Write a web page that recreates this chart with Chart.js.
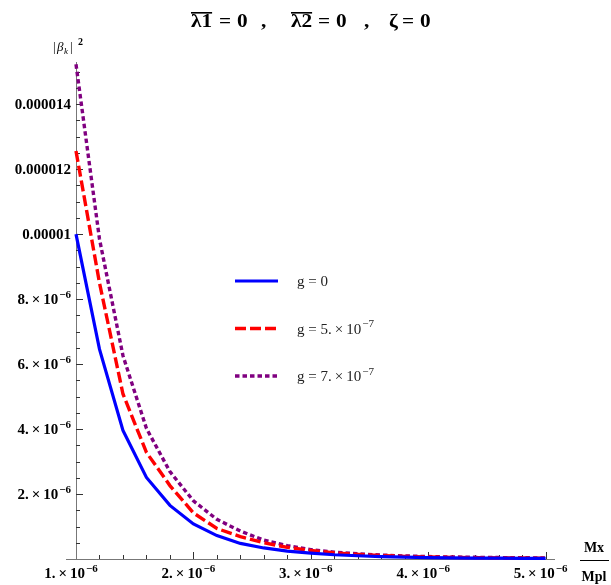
<!DOCTYPE html>
<html>
<head>
<meta charset="utf-8">
<script src="https://cdn.jsdelivr.net/npm/chart.js@4.4.1/dist/chart.umd.min.js"></script>
<style>
  html, body { margin: 0; padding: 0; background: #fff; }
  #wrap { width: 611px; height: 585px; }
</style>
</head>
<body>
<div id="wrap"><canvas id="plot"></canvas></div>
<script>
// values in units of 1e-6
const mxValues = [1.0, 1.2, 1.4, 1.6, 1.8, 2.0, 2.2, 2.4, 2.6, 2.8, 3.0, 3.2, 3.4, 3.6, 3.8, 4.0, 4.2, 4.4, 4.6, 4.8, 5.0];
const betaG0 = [10.0, 6.46, 3.96, 2.51, 1.65, 1.08, 0.72, 0.48, 0.34, 0.24, 0.18, 0.13, 0.10, 0.075, 0.058, 0.045, 0.036, 0.029, 0.024, 0.020, 0.017];
const betaG5 = [12.56, 8.5, 5.08, 3.28, 2.26, 1.42, 0.94, 0.69, 0.50, 0.36, 0.26, 0.19, 0.14, 0.105, 0.08, 0.063, 0.05, 0.041, 0.034, 0.029, 0.025];
const betaG7 = [15.23, 9.85, 6.26, 4.02, 2.69, 1.79, 1.22, 0.86, 0.58, 0.41, 0.29, 0.21, 0.16, 0.12, 0.095, 0.075, 0.062, 0.052, 0.044, 0.038, 0.033];

const T = '\u2009\u00d7\u2009';   // thin-spaced times sign
const seriesLabels = [['g = 0', ''], ['g = 5.' + T + '10', '\u22127'], ['g = 7.' + T + '10', '\u22127']];
const xTickValues = [1, 2, 3, 4, 5];
const xTickLabels = [['1.' + T + '10', '\u22126'], ['2.' + T + '10', '\u22126'], ['3.' + T + '10', '\u22126'], ['4.' + T + '10', '\u22126'], ['5.' + T + '10', '\u22126']];
const yTickValues = [2, 4, 6, 8, 10, 12, 14];
const yTickLabels = [['2.' + T + '10', '\u22126'], ['4.' + T + '10', '\u22126'], ['6.' + T + '10', '\u22126'], ['8.' + T + '10', '\u22126'], ['0.00001', ''], ['0.000012', ''], ['0.000014', '']];

const SERIF = "'Liberation Serif', 'Times New Roman', serif";

function toPoints(ys) {
    return mxValues.map((x, i) => ({ x: x, y: ys[i] }));
}

// text with a raised exponent, align: left / right / center
function sciText(ctx, parts, x, y, size, bold, align) {
    const w = bold ? 'bold ' : '';
    ctx.font = w + size + 'px ' + SERIF;
    const w1 = ctx.measureText(parts[0]).width;
    ctx.font = w + Math.round(size * 0.7) + 'px ' + SERIF;
    const w2 = parts[1] ? ctx.measureText(parts[1]).width + 1 : 0;
    let x0 = x;
    if (align === 'right') x0 = x - w1 - w2;
    if (align === 'center') x0 = x - (w1 + w2) / 2;
    ctx.textAlign = 'left';
    ctx.textBaseline = 'alphabetic';
    ctx.font = w + size + 'px ' + SERIF;
    ctx.fillText(parts[0], x0, y);
    if (parts[1]) {
        ctx.font = w + Math.round(size * 0.7) + 'px ' + SERIF;
        ctx.fillText(parts[1], x0 + w1 + 1, y - size * 0.42);
    }
}

const axesPlugin = {
    id: 'mmaAxes',
    beforeDatasetsDraw(chart) {
        const ctx = chart.ctx;
        const xs = chart.scales.x, ys = chart.scales.y;
        const x0 = xs.getPixelForValue(1), y0 = ys.getPixelForValue(0);
        ctx.save();
        ctx.strokeStyle = '#777';
        ctx.lineWidth = 1;
        ctx.beginPath();
        ctx.moveTo(x0 - 10, y0 + 0.5);
        ctx.lineTo(chart.chartArea.right, y0 + 0.5);
        ctx.moveTo(x0 + 0.5, y0);
        ctx.lineTo(x0 + 0.5, chart.chartArea.top);
        ctx.stroke();
        ctx.strokeStyle = '#333';
        ctx.beginPath();
        for (let k = 1; k * 0.2 <= 4.05; k++) {
            const px = Math.round(xs.getPixelForValue(1 + k * 0.2)) + 0.5;
            const len = (k % 5 === 0) ? 7 : 4;
            ctx.moveTo(px, y0);
            ctx.lineTo(px, y0 - len);
        }
        for (let k = 1; k * 0.5 <= 15.0; k++) {
            const py = Math.round(ys.getPixelForValue(k * 0.5)) + 0.5;
            const len = (k % 4 === 0) ? 7 : 4;
            ctx.moveTo(x0, py);
            ctx.lineTo(x0 + len, py);
        }
        ctx.stroke();
        ctx.restore();
    },
    afterDraw(chart) {
        const ctx = chart.ctx;
        const xs = chart.scales.x, ys = chart.scales.y;
        const x0 = xs.getPixelForValue(1), y0 = ys.getPixelForValue(0);
        ctx.save();
        ctx.fillStyle = '#000';

        // tick labels
        xTickValues.forEach((v, i) => {
            sciText(ctx, xTickLabels[i], xs.getPixelForValue(v) - 5, y0 + 19, 15, true, 'center');
        });
        yTickValues.forEach((v, i) => {
            sciText(ctx, yTickLabels[i], x0 - 5, ys.getPixelForValue(v) + 5, 15, true, 'right');
        });

        // axis labels
        ctx.font = 'bold 14px ' + SERIF;
        ctx.textAlign = 'center';
        ctx.textBaseline = 'alphabetic';
        ctx.fillText('Mx', 594, 552);
        ctx.fillText('Mpl', 594, 581);
        ctx.strokeStyle = '#000';
        ctx.lineWidth = 1;
        ctx.beginPath();
        ctx.moveTo(580, 560.5);
        ctx.lineTo(609, 560.5);
        ctx.stroke();

        ctx.textAlign = 'left';
        ctx.font = '13px ' + SERIF;
        ctx.fillText('|', 53, 51);
        ctx.font = 'italic 13px ' + SERIF;
        ctx.fillText('\u03b2', 57, 51);
        ctx.font = 'italic 9px ' + SERIF;
        ctx.fillText('k', 64, 54);
        ctx.font = '13px ' + SERIF;
        ctx.fillText('|', 70, 51);
        ctx.font = 'bold 10px ' + SERIF;
        ctx.fillText('2', 78, 45);

        // title
        const titleParts = [['\u03bb1', 191, true], ['=', 219, false], ['0', 237, false], [',', 261, false],
                            ['\u03bb2', 291, true], ['=', 318, false], ['0', 336, false], [',', 364, false],
                            ['\u03b6', 389, false], ['=', 402, false], ['0', 420, false]];
        ctx.font = 'bold 19px ' + SERIF;
        titleParts.forEach(p => {
            ctx.save();
            ctx.translate(p[1], 27);
            ctx.scale(1.12, 1);
            ctx.fillText(p[0], 0, 0);
            const w = ctx.measureText(p[0]).width;
            if (p[2]) ctx.fillRect(0, -15, w, 1.6);
            ctx.restore();
        });

        // legend
        chart.data.datasets.forEach((ds, i) => {
            const ly = 281 + i * 47.5;
            ctx.strokeStyle = ds.borderColor;
            ctx.lineWidth = ds.borderWidth;
            ctx.setLineDash(ds.borderDash || []);
            ctx.beginPath();
            ctx.moveTo(235, ly);
            ctx.lineTo(278, ly);
            ctx.stroke();
            ctx.setLineDash([]);
            ctx.fillStyle = '#222';
            sciText(ctx, seriesLabels[i], 297, ly + 5, 15, false, 'left');
        });
        ctx.restore();
    }
};

new Chart(document.getElementById('plot'), {
    type: 'line',
    data: {
        datasets: [{
            label: seriesLabels[0].join(''),
            data: toPoints(betaG0),
            borderColor: 'rgb(0, 0, 255)',
            borderWidth: 3.2
        }, {
            label: seriesLabels[1].join(''),
            data: toPoints(betaG5),
            borderColor: 'rgb(255, 0, 0)',
            borderWidth: 3.4,
            borderDash: [11, 4]
        }, {
            label: seriesLabels[2].join(''),
            data: toPoints(betaG7),
            borderColor: 'rgb(128, 0, 128)',
            borderWidth: 3.4,
            borderDash: [4.5, 3]
        }]
    },
    options: {
        responsive: true,
        maintainAspectRatio: false,
        animation: false,
        clip: false,
        elements: {
            point: { radius: 0 },
            line: { tension: 0, borderCapStyle: 'butt' }
        },
        layout: {
            padding: { top: 62, right: 56, left: 0, bottom: 0 }
        },
        plugins: {
            legend: { display: false },
            tooltip: { enabled: false }
        },
        scales: {
            x: {
                type: 'linear',
                min: 1,
                max: 5.08,
                ticks: { display: false },
                grid: { display: false },
                border: { display: false },
                afterFit(s) { s.height = 26; }
            },
            y: {
                min: 0,
                max: 15.3,
                ticks: { display: false },
                grid: { display: false },
                border: { display: false },
                afterFit(s) { s.width = 76; }
            }
        }
    },
    plugins: [axesPlugin]
});
</script>
</body>
</html>
